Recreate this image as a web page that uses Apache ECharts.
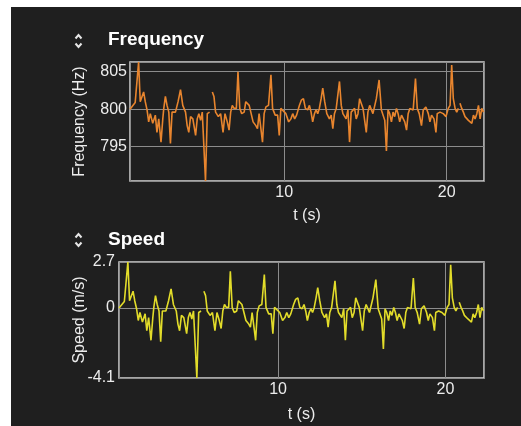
<!DOCTYPE html>
<html>
<head>
<meta charset="utf-8">
<script src="https://cdn.jsdelivr.net/npm/echarts@6/dist/echarts.min.js"></script>
<style>
html,body{margin:0;padding:0;background:#fff;}
#c{width:521px;height:426px;}
</style>
</head>
<body>
<div id="c"></div>
<script>
// time (s); null values mark gaps in the recording
const times = [0.50,0.82,1.03,1.13,1.24,1.34,1.44,1.55,1.65,1.75,1.90,2.06,2.16,2.27,2.41,2.52,2.58,2.68,2.78,2.89,2.99,3.09,3.30,3.46,3.61,3.75,3.92,4.02,4.12,4.23,4.37,4.54,4.64,4.74,4.85,4.95,5.05,5.15,5.26,5.40,5.48,
5.57,5.67,5.77,5.94,6.08,6.23,6.35,6.49,6.60,6.70,6.80,6.91,7.05,7.15,7.26,7.38,7.53,7.63,7.84,7.94,8.08,8.25,8.35,8.45,8.56,8.66,8.76,8.87,9.03,9.18,9.28,9.44,9.59,9.69,9.79,9.90,
10.10,10.27,10.41,10.52,10.64,10.76,10.93,11.05,11.18,11.30,11.44,11.55,11.65,11.75,11.86,11.96,12.06,12.16,12.27,12.37,12.49,12.62,12.78,12.89,12.99,13.09,13.20,13.40,13.51,13.61,13.81,13.92,14.02,14.12,14.23,14.33,14.43,14.54,14.64,14.85,
15.05,15.15,15.26,15.46,15.57,15.67,15.84,15.98,16.08,16.19,16.29,16.39,16.49,16.60,16.70,16.80,16.91,17.01,17.11,17.22,17.32,17.42,17.53,17.63,17.73,17.94,18.08,18.19,18.31,18.45,18.56,18.72,18.87,18.97,19.07,19.22,19.34,19.42,19.59,19.79,19.96,
20.10,20.21,20.31,20.41,20.52,20.62,20.72,20.77,20.82,20.93,21.03,21.13,21.24,21.34,21.44,21.55,21.65,21.75,21.86,21.96,22.06,22.16,22.27];

const freq = [800.0,800.9,806.3,801.0,800.8,802.3,801.0,799.9,798.3,799.4,798.1,799.2,796.9,798.7,795.6,798.7,800.1,801.7,800.5,799.6,795.4,799.6,799.6,801.0,802.6,800.5,799.6,797.8,796.9,799.0,798.7,796.5,798.7,799.4,798.5,799.6,799.4,790.4,799.4,799.6,null,
802.3,801.7,799.6,799.0,799.4,796.9,799.4,798.3,797.2,799.6,800.5,800.1,800.1,805.0,800.1,799.4,799.6,801.0,800.5,799.6,798.3,797.8,797.4,799.4,799.6,795.6,799.4,800.3,800.5,804.6,800.1,799.2,799.2,796.5,800.1,800.3,
799.4,798.3,798.7,799.4,798.7,799.2,800.5,801.2,801.4,800.1,799.9,800.5,799.6,798.3,799.4,799.9,799.4,800.1,801.4,802.8,801.0,799.4,798.7,799.2,797.4,799.4,800.1,803.7,800.5,799.4,798.7,799.9,795.6,799.6,799.4,800.1,798.7,799.4,801.4,800.1,
796.9,799.6,800.5,799.4,799.6,801.4,803.9,799.9,800.1,798.5,794.4,799.9,799.4,798.3,799.6,799.0,800.1,799.4,798.3,799.2,799.4,798.3,797.2,799.4,800.1,799.9,804.1,800.1,799.4,797.8,799.9,800.3,799.4,798.3,799.2,798.7,796.9,799.4,799.6,799.4,799.0,
800.1,800.5,805.9,801.4,800.1,799.6,800.1,null,800.8,800.1,799.6,799.0,799.2,798.5,798.7,798.1,799.2,798.7,799.4,800.5,798.7,800.1,799.6];

const speed = [0.00,0.39,2.70,0.43,0.34,0.99,0.43,-0.04,-0.73,-0.26,-0.82,-0.34,-1.33,-0.56,-1.89,-0.56,0.04,0.73,0.21,-0.17,-1.97,-0.17,-0.17,0.43,1.12,0.21,-0.17,-0.94,-1.33,-0.43,-0.56,-1.50,-0.56,-0.26,-0.64,-0.17,-0.26,-4.10,-0.26,-0.17,null,
0.99,0.73,-0.17,-0.43,-0.26,-1.33,-0.26,-0.73,-1.20,-0.17,0.21,0.04,0.04,2.15,0.04,-0.26,-0.17,0.43,0.21,-0.17,-0.73,-0.94,-1.12,-0.26,-0.17,-1.89,-0.26,0.13,0.21,1.97,0.04,-0.34,-0.34,-1.50,0.04,0.13,
-0.26,-0.73,-0.56,-0.26,-0.56,-0.34,0.21,0.51,0.60,0.04,-0.04,0.21,-0.17,-0.73,-0.26,-0.04,-0.26,0.04,0.60,1.20,0.43,-0.26,-0.56,-0.34,-1.12,-0.26,0.04,1.59,0.21,-0.26,-0.56,-0.04,-1.89,-0.17,-0.26,0.04,-0.56,-0.26,0.60,0.04,
-1.33,-0.17,0.21,-0.26,-0.17,0.60,1.67,-0.04,0.04,-0.64,-2.40,-0.04,-0.26,-0.73,-0.17,-0.43,0.04,-0.26,-0.73,-0.34,-0.26,-0.73,-1.20,-0.26,0.04,-0.04,1.76,0.04,-0.26,-0.94,-0.04,0.13,-0.26,-0.73,-0.34,-0.56,-1.33,-0.26,-0.17,-0.26,-0.43,
0.04,0.21,2.53,0.60,0.04,-0.17,0.04,null,0.34,0.04,-0.17,-0.43,-0.34,-0.64,-0.56,-0.82,-0.34,-0.56,-0.26,0.21,-0.56,0.04,-0.17];

const xTicks = [10, 20];

const bg = '#1f1f1f';
const fontFam = '"Liberation Sans", Arial, Helvetica, sans-serif';
const labelColor = '#ececec';
const gridLineColor = '#8c8c8c';

function pairs(ys){ return times.map((t,i)=> [t, ys[i] === null ? '-' : ys[i]]); }

const chart = echarts.init(document.getElementById('c'), null, {renderer:'canvas'});

function xAxis(gridIndex, gap){
  return {
    type:'value', gridIndex, min:0.5, max:22.3, minInterval:10, maxInterval:10,
    name:'t (s)', nameLocation:'middle', nameGap:gap, nameMoveOverlap:false,
    nameTextStyle:{color:labelColor, fontSize:16, fontFamily:fontFam},
    axisLine:{show:false}, axisTick:{show:false},
    axisLabel:{color:labelColor, fontSize:16, fontFamily:fontFam, margin:4, showMinLabel:false, showMaxLabel:false,
      formatter: v => xTicks.indexOf(Math.round(v)) >= 0 && Math.abs(v-Math.round(v))<1e-6 ? String(Math.round(v)) : ''},
    splitLine:{show:true, lineStyle:{color:gridLineColor, width:1}}
  };
}

chart.setOption({
  backgroundColor: bg,
  animation:false,
  title:[
    {text:'Frequency', left:108, top:30, padding:0, textStyle:{color:'#ffffff', fontSize:19, fontWeight:'bold', fontFamily:fontFam}},
    {text:'Speed', left:108, top:230, padding:0, textStyle:{color:'#ffffff', fontSize:19, fontWeight:'bold', fontFamily:fontFam}}
  ],
  graphic:[
    {type:'rect', shape:{x:0,y:0,width:11,height:426}, style:{fill:'#ffffff'}, silent:true},
    {type:'rect', shape:{x:0,y:0,width:521,height:7}, style:{fill:'#ffffff'}, silent:true},
    {type:'polyline', shape:{points:[[75.5,38.5],[78.5,35],[81.5,38.5]]}, style:{stroke:'#e6e6e6', lineWidth:2, fill:null}},
    {type:'polyline', shape:{points:[[75.5,43.5],[78.5,47],[81.5,43.5]]}, style:{stroke:'#e6e6e6', lineWidth:2, fill:null}},
    {type:'polyline', shape:{points:[[75.5,237.5],[78.5,234],[81.5,237.5]]}, style:{stroke:'#e6e6e6', lineWidth:2, fill:null}},
    {type:'polyline', shape:{points:[[75.5,242.5],[78.5,246],[81.5,242.5]]}, style:{stroke:'#e6e6e6', lineWidth:2, fill:null}}
  ],
  grid:[
    {left:130, top:62, right:37, height:119, show:true, borderColor:'#d4d4d4', borderWidth:1.5, backgroundColor:'transparent'},
    {left:119, top:262, right:37, height:116, show:true, borderColor:'#d4d4d4', borderWidth:1.5, backgroundColor:'transparent'}
  ],
  xAxis:[ xAxis(0, 27), xAxis(1, 29) ],
  yAxis:[
    {type:'value', gridIndex:0, min:790.4, max:806.3, minInterval:5, maxInterval:5,
     name:'Frequency (Hz)', nameLocation:'middle', nameGap:42, nameMoveOverlap:false,
     nameTextStyle:{color:labelColor, fontSize:16, fontFamily:fontFam},
     axisLine:{show:false}, axisTick:{show:false},
     axisLabel:{color:labelColor, fontSize:16, fontFamily:fontFam, margin:3, showMinLabel:false, showMaxLabel:false},
     splitLine:{show:true, lineStyle:{color:gridLineColor, width:1}}},
    {type:'value', gridIndex:1, min:-4.1, max:2.7, interval:4.1,
     name:'Speed (m/s)', nameLocation:'middle', nameGap:31, nameMoveOverlap:false,
     nameTextStyle:{color:labelColor, fontSize:16, fontFamily:fontFam},
     axisLine:{show:false}, axisTick:{show:false},
     axisLabel:{color:labelColor, fontSize:16, fontFamily:fontFam, margin:4,
       formatter: v => Math.abs(v) < 1e-6 ? '0' : v.toFixed(1)},
     splitLine:{show:true, lineStyle:{color:gridLineColor, width:1}}}
  ],
  series:[
    {type:'line', xAxisIndex:0, yAxisIndex:0, data:pairs(freq), showSymbol:false, connectNulls:false,
     lineStyle:{color:'#e8852e', width:1.6}, itemStyle:{color:'#e8852e'}, clip:true},
    {type:'line', xAxisIndex:1, yAxisIndex:1, data:pairs(speed), showSymbol:false, connectNulls:false,
     lineStyle:{color:'#e2dc2a', width:1.6}, itemStyle:{color:'#e2dc2a'}, clip:true}
  ]
});
</script>
</body>
</html>
